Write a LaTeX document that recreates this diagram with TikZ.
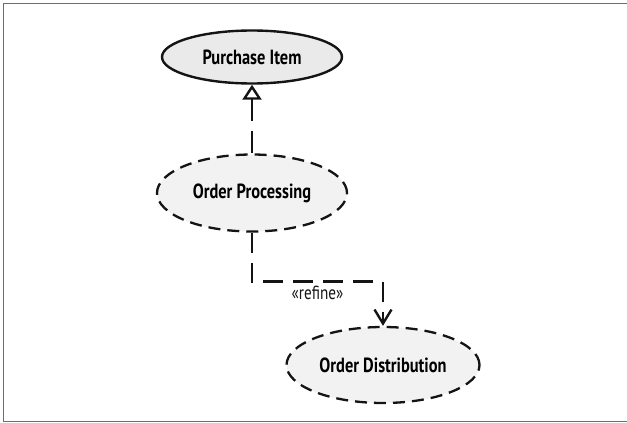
\documentclass[tikz,border=0pt]{standalone}
\usepackage{fontspec}
\setmainfont{PT Sans}
\newfontfamily\umlfont[FakeStretch=0.8]{PT Sans}
\usepackage{tikz}
\usetikzlibrary{shapes.geometric, arrows.meta, positioning, calc}
\definecolor{myframe}{RGB}{110,110,110}
\definecolor{mydark}{RGB}{20,20,20}
\definecolor{hdrgray}{RGB}{234,234,234}
\definecolor{hdrlight}{RGB}{242,242,242}
\tikzset{
  usecase/.style={ellipse, draw=mydark, fill=hdrgray,
    font=\umlfont\fontsize{20.5}{24}\selectfont\bfseries, line width=2.4pt, inner sep=0pt},
  abstractcase/.style={ellipse, draw=mydark, fill=hdrlight,
    dash pattern=on 12pt off 7pt,
    font=\umlfont\fontsize{20.5}{24}\selectfont\bfseries, line width=2.3pt, inner sep=0pt},
  genarrow/.style={-{Triangle[open, width=19pt, length=15pt, line width=2.4pt]},
    line width=2.6pt, color=mydark, dash pattern=on 22pt off 10pt},
  refarrow/.style={-{Straight Barb[width=17pt, length=14pt, line width=2.4pt]},
    line width=2.6pt, color=mydark, dash pattern=on 20pt off 10pt},
  stereo/.style={font=\umlfont\fontsize{19}{22}\selectfont, inner sep=3pt}
}
\begin{document}
\begin{tikzpicture}[x=1pt, y=-1pt]
  \useasboundingbox (0,0) rectangle (627,423);
  \draw[myframe, line width=1.6pt] (3.5,3.5) rectangle (640,421.5);
  % use cases
  \node[usecase, minimum width=180pt, minimum height=53pt] (pi) at (252,57) {Purchase Item};
  \node[abstractcase, minimum width=190pt, minimum height=77pt] (op) at (252,193) {Order Processing};
  \node[abstractcase, minimum width=193pt, minimum height=76pt] (od) at (383,365) {Order Distribution};
  % relations
  \draw[genarrow] (op.north) -- (pi.south);
  \draw[refarrow] (op.south) -- ++(0,49) -| node[stereo, below, pos=0.25] (rf) {«refine»} (od.north);
\end{tikzpicture}
\end{document}
